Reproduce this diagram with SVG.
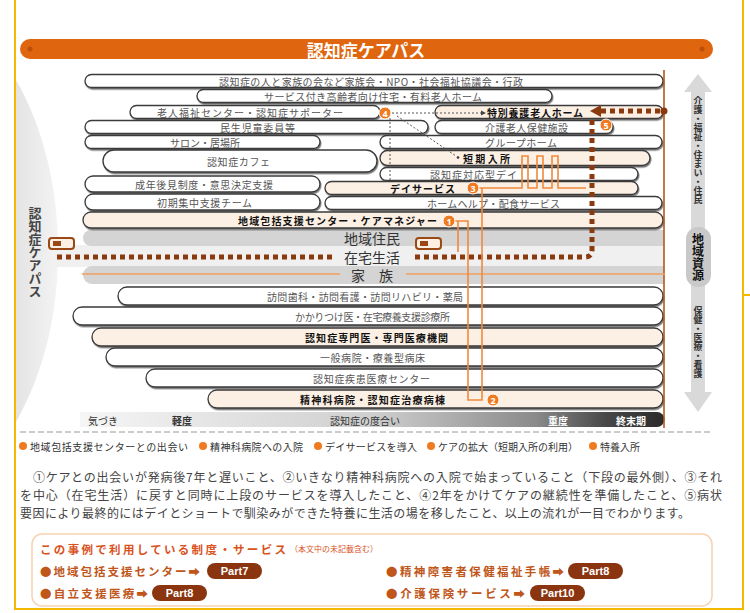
<svg xmlns="http://www.w3.org/2000/svg" width="750" height="613" viewBox="0 0 750 613">
<style>
.f{font-family:"Noto Sans CJK JP","Noto Sans",sans-serif}
.pill{stroke:#3a3a3a;stroke-width:1.3;filter:url(#sh)}
.w{fill:#fff}.c{fill:#fcefe3}
.t{font-family:"Noto Sans CJK JP","Noto Sans",sans-serif;font-size:10px;fill:#555;dominant-baseline:central}
.tb{font-weight:700;fill:#111}
.band{fill:#d4d4d4}
.big{font-family:"Noto Sans CJK JP","Noto Sans",sans-serif;font-size:14px;fill:#333;dominant-baseline:central;text-anchor:middle}
.brown{stroke:#8b3a0f;stroke-width:5;fill:none;stroke-dasharray:5 4}
.orl{stroke:#f08a3c;stroke-width:1.6;fill:none}
.dot{stroke:#555;stroke-width:1;fill:none;stroke-dasharray:2 2}
.num circle{fill:#f07a20;stroke:#fff;stroke-width:1}
.num text{font-family:"Noto Sans",sans-serif;font-size:9px;font-weight:700;fill:#fff;text-anchor:middle;dominant-baseline:central}
.vt{font-family:"Noto Sans CJK JP","Noto Sans",sans-serif;writing-mode:vertical-rl;text-anchor:middle}
.leg{font-family:"Noto Sans CJK JP","Noto Sans",sans-serif;font-size:10px;fill:#333;dominant-baseline:central}
.para{font-family:"Noto Sans CJK JP","Noto Sans",sans-serif;font-size:12px;fill:#444;dominant-baseline:central}
.item{font-family:"Noto Sans CJK JP","Noto Sans",sans-serif;font-size:11.5px;font-weight:700;fill:#c0561a;dominant-baseline:central}
.part rect{fill:#8b3510}
.part text{font-family:"Liberation Sans",sans-serif;font-size:11px;font-weight:700;fill:#fff;text-anchor:middle;dominant-baseline:central}
</style>
<defs>
<filter id="sh" x="-5%" y="-30%" width="110%" height="180%">
<feDropShadow dx="0.8" dy="1.5" stdDeviation="0.6" flood-color="#555" flood-opacity="0.8"/>
</filter>
<linearGradient id="crescent" x1="0" y1="0" x2="1" y2="0">
<stop offset="0" stop-color="#e4e4e4"/><stop offset="1" stop-color="#f3f3f3"/>
</linearGradient>
<linearGradient id="bar" x1="80" y1="0" x2="665" y2="0" gradientUnits="userSpaceOnUse">
<stop offset="0" stop-color="#f6f6f6"/><stop offset="0.5" stop-color="#cfcfcf"/><stop offset="0.78" stop-color="#8a8a8a"/><stop offset="0.9" stop-color="#474747"/><stop offset="1" stop-color="#2a2a2a"/>
</linearGradient>
</defs>

<rect width="750" height="613" fill="#fff"/>

<!-- page frame -->
<g id="frame" stroke="#f5b800" stroke-width="2" fill="none">
<path d="M15,0 V609 H743 V0"/>
<path d="M743,295 H750"/>
</g>

<!-- title -->
<g id="title">
<rect x="20" y="39" width="693" height="20" rx="10" fill="#e0650f"/>
<circle cx="30" cy="49" r="2.5" fill="#b94f0a"/>
<circle cx="702" cy="49" r="2.5" fill="#b94f0a"/>
<text x="366" y="49" class="f" font-size="17" font-weight="700" fill="#fff" text-anchor="middle" dominant-baseline="central">認知症ケアパス</text>
</g>

<!-- left crescent -->
<g id="left-label">
<path d="M16,80 C42,125 58,185 58,250 C58,320 42,375 16,422 Z" fill="url(#crescent)"/>
<text x="35" y="207" class="vt" font-size="13" font-weight="700" fill="#444" style="text-anchor:start">認知症ケアパス</text>
</g>

<!-- right arrow -->
<g id="resources">
<path d="M698,74 L712,92 H705 V392 H712 L698,412 L684,392 H691 V92 H684 Z" fill="#d9d9d9"/>
<rect x="686" y="227" width="25" height="60" rx="12" fill="#c9c9c9"/>
<text x="698" y="96" class="vt" font-size="9" font-weight="700" fill="#333" style="text-anchor:start">介護・福祉・住まい・住民</text>
<text x="698" y="233" class="vt" font-size="12" font-weight="700" fill="#111" style="text-anchor:start">地域資源</text>
<text x="698" y="306" class="vt" font-size="9" font-weight="700" fill="#333" style="text-anchor:start">保健・医療・看護</text>
</g>

<!-- bands -->
<g id="bands">
<rect x="55" y="245" width="609" height="22" fill="#f0f0f0"/>
<path d="M91,230 H664 V246 H91 A8,8 0 0 1 91,230 Z" class="band"/>
<path d="M92,266 H664 V284 H92 A9,9 0 0 1 92,266 Z" class="band"/>
<text x="372" y="238" class="big">地域住民</text>
<text x="372" y="256.5" class="big">在宅生活</text>
<text x="372" y="275" class="big">家　族</text>
</g>

<!-- upper pills -->
<g id="n1"><rect class="pill w" x="85" y="74.5" width="578" height="13" rx="6.5"/><text class="t" x="219" y="81" textLength="304">認知症の人と家族の会など家族会・NPO・社会福祉協議会・行政</text></g>
<g id="n2"><rect class="pill w" x="197" y="89.5" width="355" height="13" rx="6.5"/><text class="t" x="264" y="96" textLength="218">サービス付き高齢者向け住宅・有料老人ホーム</text></g>
<g id="n3"><rect class="pill w" x="130" y="105.5" width="250" height="13" rx="6.5"/><text class="t" x="157" y="112" textLength="186">老人福祉センター・認知症サポーター</text></g>
<g id="n4"><rect class="pill c" x="435" y="105.5" width="228" height="13" rx="6.5"/><text class="t tb" x="487" y="112" textLength="96">特別養護老人ホーム</text></g>
<g id="n5"><rect class="pill w" x="85" y="120.5" width="343" height="13" rx="6.5"/><text class="t" x="220" y="127" textLength="75">民生児童委員等</text></g>
<g id="n6"><rect class="pill w" x="435" y="120.5" width="178" height="13" rx="6.5"/><text class="t" x="485" y="127" textLength="83">介護老人保健施設</text></g>
<g id="n7"><rect class="pill w" x="85" y="135.5" width="235" height="13" rx="6.5"/><text class="t" x="170" y="142" textLength="70">サロン・居場所</text></g>
<g id="n8"><rect class="pill w" x="380" y="135.5" width="282" height="13" rx="6.5"/><text class="t" x="485" y="142" textLength="72">グループホーム</text></g>
<g id="n9"><rect class="pill w" x="103" y="150" width="274" height="22" rx="11"/><text class="t" x="207" y="161" textLength="63">認知症カフェ</text></g>
<g id="n10"><rect class="pill c" x="380" y="150.5" width="270" height="15" rx="7.5"/><text class="t tb" x="463" y="158" textLength="47">短期入所</text></g>
<g id="n11"><rect class="pill w" x="380" y="167.5" width="258" height="13" rx="6.5"/><text class="t" x="430" y="174" textLength="87">認知症対応型デイ</text></g>
<g id="n12"><rect class="pill w" x="85" y="176" width="235" height="16" rx="8"/><text class="t" x="135" y="184" textLength="138">成年後見制度・意思決定支援</text></g>
<g id="n13"><rect class="pill c" x="325" y="181.5" width="313" height="13" rx="6.5"/><text class="t tb" x="390" y="188" textLength="65">デイサービス</text></g>
<g id="n14"><rect class="pill w" x="85" y="194" width="235" height="16" rx="8"/><text class="t" x="157" y="202" textLength="95">初期集中支援チーム</text></g>
<g id="n15"><rect class="pill w" x="325" y="196.5" width="337" height="13" rx="6.5"/><text class="t" x="427" y="203" textLength="133">ホームヘルプ・配食サービス</text></g>
<g id="n16"><rect class="pill c" x="83" y="212" width="580" height="16" rx="8"/><text class="t tb" x="238" y="220" textLength="199">地域包括支援センター・ケアマネジャー</text></g>

<!-- lower pills -->
<g id="n17"><rect class="pill w" x="118" y="287" width="545" height="18" rx="9"/><text class="t" x="267" y="296" textLength="196">訪問歯科・訪問看護・訪問リハビリ・薬局</text></g>
<g id="n18"><rect class="pill w" x="73" y="307" width="590" height="18" rx="9"/><text class="t" x="295" y="316" textLength="155">かかりつけ医・在宅療養支援診療所</text></g>
<g id="n19"><rect class="pill c" x="92" y="328" width="571" height="18" rx="9"/><text class="t tb" x="305" y="337" textLength="143">認知症専門医・専門医療機関</text></g>
<g id="n20"><rect class="pill w" x="106" y="348" width="557" height="18" rx="9"/><text class="t" x="320" y="357" textLength="105">一般病院・療養型病床</text></g>
<g id="n21"><rect class="pill w" x="146" y="369" width="517" height="18" rx="9"/><text class="t" x="313" y="378" textLength="117">認知症疾患医療センター</text></g>
<g id="n22"><rect class="pill c" x="208" y="390" width="455" height="18" rx="9"/><text class="t tb" x="300" y="399" textLength="145">精神科病院・認知症治療病棟</text></g>

<!-- stage bar -->
<g id="stage">
<path d="M80,412 H657 A7.5,7.5 0 0 1 657,427 H80 Z" fill="url(#bar)"/>
<text x="88" y="420" class="leg" font-size="9">気づき</text>
<text x="172" y="420" class="leg" font-size="9" font-weight="700">軽度</text>
<text x="330" y="420" class="leg" font-size="9">認知症の度合い</text>
<text x="548" y="420" class="leg" font-size="9" font-weight="700" style="fill:#fff">重度</text>
<text x="616" y="420" class="leg" font-size="9" font-weight="700" style="fill:#fff">終末期</text>
</g>

<!-- connectors -->
<g id="connectors">
<line x1="664" y1="70" x2="664" y2="428" stroke="#b5571d" stroke-width="1.6"/>
<path d="M82,274 H340 M406,274 H665" stroke="#f0a060" stroke-width="1.6" fill="none"/>
<path class="brown" d="M57,257 H332"/>
<path class="brown" d="M415,257 H585 Q592,257 592,250 V118"/>
<path class="brown" d="M660,111 H600"/>
<path d="M601,105 L590,111 L601,117 Z" fill="#8b3a0f"/>
<circle cx="664" cy="111" r="3.5" fill="#8b3a0f"/>
<path class="orl" d="M455,221 H468 V400 H482 V188"/>
<path class="orl" d="M458,221 V252"/>
<path class="orl" d="M479,188 H522 V156 H528 V188 H537 V156 H543 V188 H552 V156 H558 V188 H586"/>
<path class="dot" d="M392,113 H482"/>
<path d="M481,110.5 L486,113 L481,115.5 Z" fill="#444"/>
<path class="dot" d="M390,118 V180"/>
<path class="dot" d="M397,116 L456,156"/>
<circle cx="458" cy="157.5" r="1.3" fill="#333"/>
<g fill="#fcefe3" stroke="#9a4814" stroke-width="2">
<rect x="49" y="238" width="25" height="11" rx="3"/>
<rect x="416" y="238" width="25" height="11" rx="3"/>
</g>
<g fill="#9a4814"><rect x="53" y="241" width="8" height="5"/><rect x="420" y="241" width="8" height="5"/></g>
</g>

<!-- numbered markers -->
<g id="markers" class="num">
<g><circle cx="449" cy="221" r="6"/><text x="449" y="221">1</text></g>
<g><circle cx="493" cy="400" r="6"/><text x="493" y="400">2</text></g>
<g><circle cx="473" cy="188" r="6"/><text x="473" y="188">3</text></g>
<g><circle cx="385" cy="113" r="6"/><text x="385" y="113">4</text></g>
<g><circle cx="606" cy="125" r="6"/><text x="606" y="125">5</text></g>
</g>

<line x1="20" y1="432" x2="712" y2="432" stroke="#999" stroke-width="1" stroke-dasharray="6 3"/>

<!-- legend -->
<g id="legend" fill="#f07a20">
<circle cx="23" cy="446" r="4"/><text x="30" y="446" class="leg" textLength="158">地域包括支援センターとの出会い</text>
<circle cx="203" cy="446" r="4"/><text x="210" y="446" class="leg" textLength="93">精神科病院への入院</text>
<circle cx="318" cy="446" r="4"/><text x="325" y="446" class="leg" textLength="92">デイサービスを導入</text>
<circle cx="431" cy="446" r="4"/><text x="438" y="446" class="leg" textLength="140">ケアの拡大（短期入所の利用）</text>
<circle cx="593" cy="446" r="4"/><text x="600" y="446" class="leg" textLength="40">特養入所</text>
</g>

<!-- paragraph -->
<g id="paragraph">
<text x="33" y="476" class="para" textLength="689">①ケアとの出会いが発病後7年と遅いこと、②いきなり精神科病院への入院で始まっていること（下段の最外側）、③それ</text>
<text x="20" y="494" class="para" textLength="702">を中心（在宅生活）に戻すと同時に上段のサービスを導入したこと、④2年をかけてケアの継続性を準備したこと、⑤病状</text>
<text x="20" y="512" class="para" textLength="670">要因により最終的にはデイとショートで馴染みができた特養に生活の場を移したこと、以上の流れが一目でわかります。</text>
</g>

<!-- services box -->
<g id="services">
<rect x="32" y="534" width="680" height="72" rx="10" fill="#fff" stroke="#f6d2b0" stroke-width="1.5"/>
<text x="40" y="549" class="item" style="fill:#d9531e" textLength="246">この事例で利用している制度・サービス</text>
<text x="290" y="548" class="f" font-size="8" fill="#d9531e" dominant-baseline="central">（本文中の未記載含む）</text>
<text x="40" y="571" class="item" textLength="160">●地域包括支援センター➡</text>
<g class="part"><rect x="207" y="563" width="55" height="16" rx="8"/><text x="234.5" y="571">Part7</text></g>
<text x="386" y="571" class="item" textLength="178">●精神障害者保健福祉手帳➡</text>
<g class="part"><rect x="568" y="563" width="55" height="16" rx="8"/><text x="595.5" y="571">Part8</text></g>
<text x="40" y="593" class="item" textLength="108">●自立支援医療➡</text>
<g class="part"><rect x="152" y="585" width="55" height="16" rx="8"/><text x="179.5" y="593">Part8</text></g>
<text x="386" y="593" class="item" textLength="139">●介護保険サービス➡</text>
<g class="part"><rect x="530" y="585" width="55" height="16" rx="8"/><text x="557.5" y="593">Part10</text></g>
</g>
</svg>
